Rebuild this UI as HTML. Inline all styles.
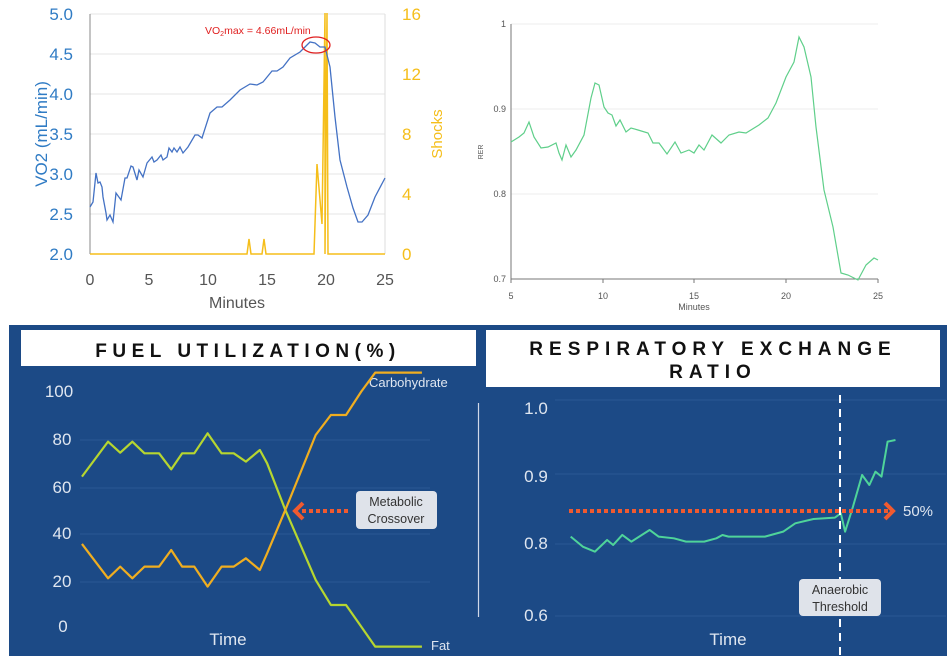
<!DOCTYPE html>
<html><head><meta charset="utf-8"><style>
html,body{margin:0;padding:0;background:#fff;}
svg{display:block;font-family:"Liberation Sans","Noto Sans CJK SC",sans-serif;}
.nse{vector-effect:non-scaling-stroke;}
</style></head><body>
<svg width="952" height="658" viewBox="0 0 952 658">
<!-- ===== Top-left chart ===== -->
<g stroke="#e6e6e6" stroke-width="1">
<line x1="90" y1="14" x2="385" y2="14"/><line x1="90" y1="54" x2="385" y2="54"/>
<line x1="90" y1="94" x2="385" y2="94"/><line x1="90" y1="134" x2="385" y2="134"/>
<line x1="90" y1="174" x2="385" y2="174"/><line x1="90" y1="214" x2="385" y2="214"/>
</g>
<line x1="90" y1="14" x2="90" y2="254" stroke="#888" stroke-width="1"/>
<line x1="385" y1="14" x2="385" y2="254" stroke="#ddd" stroke-width="1"/>
<g fill="#2f7bc4" font-size="17" text-anchor="end">
<text x="73" y="20">5.0</text><text x="73" y="60">4.5</text><text x="73" y="100">4.0</text>
<text x="73" y="140">3.5</text><text x="73" y="180">3.0</text><text x="73" y="220">2.5</text><text x="73" y="260">2.0</text>
</g>
<text transform="translate(47,134) rotate(-90)" fill="#2f7bc4" font-size="17" text-anchor="middle">VO2 (mL/min)</text>
<g fill="#f5be1a" font-size="17">
<text x="402" y="20">16</text><text x="402" y="80">12</text><text x="402" y="140">8</text>
<text x="402" y="200">4</text><text x="402" y="260">0</text>
</g>
<text transform="translate(442,134) rotate(-90)" fill="#f5be1a" font-size="15" text-anchor="middle">Shocks</text>
<g fill="#555" font-size="16" text-anchor="middle">
<text x="90" y="285">0</text><text x="149" y="285">5</text><text x="208" y="285">10</text>
<text x="267" y="285">15</text><text x="326" y="285">20</text><text x="385" y="285">25</text>
</g>
<text x="237" y="308" fill="#555" font-size="16" text-anchor="middle">Minutes</text>
<polyline fill="none" stroke="#f5be1a" stroke-width="1.5" points="90,254 247,254 249,239 251,254 262,254 264,239 266,254 314,254 317,164 322,224 325,13 325,254 327,13 328,254 385,254"/>
<polyline fill="none" stroke="#4472c4" stroke-width="1.3" points="90,207 93,202 96,173 98,183 100,182 102,187 103,197 106,213 107,220 110,215 113,222 116,193 121,200 125,178 127,178 131,166 133,167 137,180 139,170 143,177 147,163 152,157 154,162 157,160 161,155 163,160 167,157 169,148 172,152 174,148 177,152 180,147 183,153 188,147 195,135 198,135 202,138 210,113 217,107 222,107 230,100 240,90 250,84 257,85 263,82 272,71 277,71 283,67 290,58 300,52 310,42 315,43 320,47 325,47 330,67 335,117 340,160 347,187 353,208 358,222 362,222 368,215 375,197 385,178"/>
<ellipse cx="316" cy="45" rx="14" ry="8" fill="none" stroke="#e02020" stroke-width="1.3"/>
<text x="205" y="34" fill="#e02020" font-size="10.5">VO<tspan font-size="7" dy="2">2</tspan><tspan dy="-2">max = 4.66mL/min</tspan></text>

<!-- ===== Top-right chart ===== -->
<g stroke="#eeeeee" stroke-width="1">
<line x1="511" y1="24" x2="878" y2="24"/><line x1="511" y1="109" x2="878" y2="109"/><line x1="511" y1="194" x2="878" y2="194"/>
</g>
<line x1="511" y1="24" x2="511" y2="279" stroke="#777" stroke-width="1"/>
<line x1="511" y1="279" x2="878" y2="279" stroke="#777" stroke-width="1"/>
<g stroke="#777"><line x1="603" y1="279" x2="603" y2="283"/><line x1="694" y1="279" x2="694" y2="283"/><line x1="786" y1="279" x2="786" y2="283"/><line x1="878" y1="279" x2="878" y2="283"/><line x1="511" y1="279" x2="511" y2="283"/></g>
<g fill="#555" font-size="9" text-anchor="end">
<text x="506" y="27">1</text><text x="506" y="112">0.9</text><text x="506" y="197">0.8</text><text x="506" y="282">0.7</text>
</g>
<text transform="translate(483,152) rotate(-90)" fill="#555" font-size="7" text-anchor="middle">RER</text>
<g fill="#555" font-size="9" text-anchor="middle">
<text x="511" y="299">5</text><text x="603" y="299">10</text><text x="694" y="299">15</text><text x="786" y="299">20</text><text x="878" y="299">25</text>
</g>
<text x="694" y="310" fill="#555" font-size="9" text-anchor="middle">Minutes</text>
<polyline fill="none" stroke="#5fcf8a" stroke-width="1.2" points="511,142 519,137 524,133 529,122 534,137 541,148 548,147 556,143 559,153 562,160 566,145 571,157 576,150 584,135 591,98 595,83 599,85 604,107 608,113 612,115 616,126 620,120 626,132 631,128 638,130 648,133 653,143 659,143 667,154 675,142 681,153 689,150 694,153 699,145 704,150 712,135 721,143 729,135 739,132 746,133 759,125 768,118 776,103 786,77 794,62 799,37 804,47 811,77 816,127 824,190 833,227 841,273 848,275 858,280 866,265 874,258 878,260"/>

<!-- ===== Bottom panel ===== -->
<rect x="9" y="325" width="938" height="331" fill="#1c4a86"/>
<rect x="21" y="330" width="455" height="36" fill="#fff"/>
<rect x="486" y="330" width="454" height="57" fill="#fff"/>
<text x="248" y="357" font-size="19" font-weight="bold" fill="#111" text-anchor="middle" letter-spacing="5.5">FUEL UTILIZATION(%)</text>
<text x="713" y="355" font-size="19" font-weight="bold" fill="#111" text-anchor="middle" letter-spacing="6">RESPIRATORY EXCHANGE</text>
<text x="713" y="378" font-size="19" font-weight="bold" fill="#111" text-anchor="middle" letter-spacing="6">RATIO</text>
<g stroke="#2a5894" stroke-width="1">
<line x1="80" y1="440" x2="430" y2="440"/><line x1="80" y1="488" x2="430" y2="488"/><line x1="80" y1="534" x2="430" y2="534"/><line x1="80" y1="582" x2="430" y2="582"/>
<line x1="555" y1="400" x2="946" y2="400"/><line x1="555" y1="474" x2="946" y2="474"/><line x1="555" y1="544" x2="946" y2="544"/><line x1="555" y1="616" x2="946" y2="616"/>
</g>
<line x1="478.5" y1="403" x2="478.5" y2="617" stroke="#cfd8e8" stroke-width="1.2"/>
<g fill="#dfe6f0" font-size="17" text-anchor="middle">
<text x="59" y="397">100</text><text x="62" y="445">80</text><text x="62" y="493">60</text>
<text x="62" y="539">40</text><text x="62" y="587">20</text><text x="63" y="632">0</text>
<text x="536" y="414">1.0</text><text x="536" y="482">0.9</text><text x="536" y="549">0.8</text><text x="536" y="621">0.6</text>
<text x="228" y="645">Time</text><text x="728" y="645">Time</text>
</g>
<text x="369" y="387" fill="#dfe6f0" font-size="13">Carbohydrate</text>
<text x="431" y="650" fill="#dfe6f0" font-size="13">Fat</text>
<text x="903" y="516" fill="#dfe6f0" font-size="15">50%</text>
<g transform="translate(0,320) scale(0.6071,0.3333)" fill="none" stroke-linejoin="round">
<polyline class="nse" stroke="#b6d630" stroke-width="2.2" points="135,470 178,365 198,398 218,365 238,400 262,400 282,448 300,400 320,400 342,340 365,400 385,400 405,425 428,390 440,430 470,570 520,780 545,855 570,855 595,920 618,980 695,980"/>
<polyline class="nse" stroke="#f0ae20" stroke-width="2.2" points="135,672 178,775 198,740 218,775 238,740 262,740 282,690 300,740 320,740 342,800 365,740 385,740 405,715 428,750 440,700 470,570 520,345 545,285 570,285 595,215 618,158 695,158"/>
<polyline class="nse" stroke="#4fd49a" stroke-width="2" points="940,650 960,680 980,695 1000,660 1010,675 1025,645 1040,665 1070,630 1085,650 1110,655 1130,665 1160,665 1180,655 1190,645 1200,650 1260,650 1290,635 1310,610 1340,597 1375,593 1385,580 1392,635 1405,560 1420,465 1432,495 1442,455 1452,470 1462,365 1475,360"/>
</g>
<line x1="840" y1="395" x2="840" y2="656" stroke="#fff" stroke-width="2" stroke-dasharray="8,6"/>
<line x1="569" y1="511" x2="888" y2="511" stroke="#f05a30" stroke-width="4" stroke-dasharray="4,3"/>
<polyline points="885,503 893,511 885,519" fill="none" stroke="#f05a30" stroke-width="4"/>
<line x1="302" y1="511" x2="349" y2="511" stroke="#f05a30" stroke-width="4" stroke-dasharray="4,3"/>
<polyline points="303,503 295,511 303,519" fill="none" stroke="#f05a30" stroke-width="4"/>
<rect x="356" y="491" width="81" height="38" rx="4" fill="#dfe3ea"/>
<text x="396" y="506" font-size="12.5" fill="#333" text-anchor="middle">Metabolic</text>
<text x="396" y="523" font-size="12.5" fill="#333" text-anchor="middle">Crossover</text>
<rect x="799" y="579" width="82" height="37" rx="4" fill="#dfe3ea"/>
<text x="840" y="594" font-size="12.5" fill="#333" text-anchor="middle">Anaerobic</text>
<text x="840" y="611" font-size="12.5" fill="#333" text-anchor="middle">Threshold</text>
</svg>
</body></html>
